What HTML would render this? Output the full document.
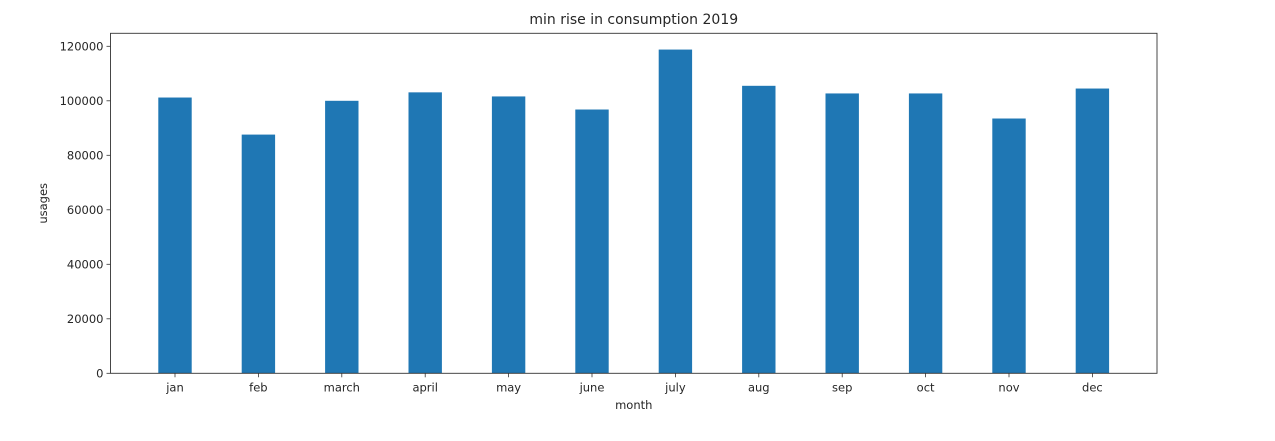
<!DOCTYPE html>
<html><head><meta charset="utf-8"><style>body{margin:0;background:#fff}svg{display:block}text{font-family:"DejaVu Sans","Liberation Sans",sans-serif;fill:#262626}</style></head>
<body>
<svg id="chart" width="1275" height="441" xmlns="http://www.w3.org/2000/svg"></svg>
<script>
const categories=["jan","feb","march","april","may","june","july","aug","sep","oct","nov","dec"];
const values=[101200,87600,100000,103100,101600,96800,118800,105500,102700,102700,93500,104500];
const yTicks=[0,20000,40000,60000,80000,100000,120000];
const NS="http://www.w3.org/2000/svg";
const svg=document.getElementById('chart');
const L=110.5,R=1157,T=33.3,B=373.3;
const y=v=>B-v*327/120000;
const x0=175,step=83.4,bw=33.4;
const x=i=>x0+i*step;
function mk(t,a,p){const e=document.createElementNS(NS,t);for(const k in a)e.setAttribute(k,a[k]);(p||svg).appendChild(e);return e;}
categories.forEach((c,i)=>{
 const r=mk('rect',{x:x(i)-bw/2,y:y(values[i]),width:bw,height:B-y(values[i]),fill:'#1f77b4'});
 
 
 mk('line',{x1:x(i),x2:x(i),y1:B,y2:B+4,stroke:'#333','stroke-width':0.8});
 const t=mk('text',{x:x(i),y:B+18,'text-anchor':'middle','font-size':'11.5'});t.textContent=c;
 
 
});
yTicks.forEach(v=>{
 mk('line',{x1:L-4,x2:L,y1:y(v),y2:y(v),stroke:'#333','stroke-width':0.8});
 const t=mk('text',{x:L-7,y:y(v)+4,'text-anchor':'end','font-size':'11.5'});t.textContent=v;
 
 
});
const f=mk('rect',{x:L,y:T,width:R-L,height:B-T,fill:'none',stroke:'#333','stroke-width':0.9});


let t=mk('text',{x:(L+R)/2,y:24,'text-anchor':'middle','font-size':'14'});t.textContent='min rise in consumption 2019';


t=mk('text',{x:(L+R)/2,y:409,'text-anchor':'middle','font-size':'11.5'});t.textContent='month';


t=mk('text',{x:47,y:(T+B)/2,'text-anchor':'middle','font-size':'11.5',transform:`rotate(-90 47 ${(T+B)/2})`});t.textContent='usages';


</script>
</body></html>
